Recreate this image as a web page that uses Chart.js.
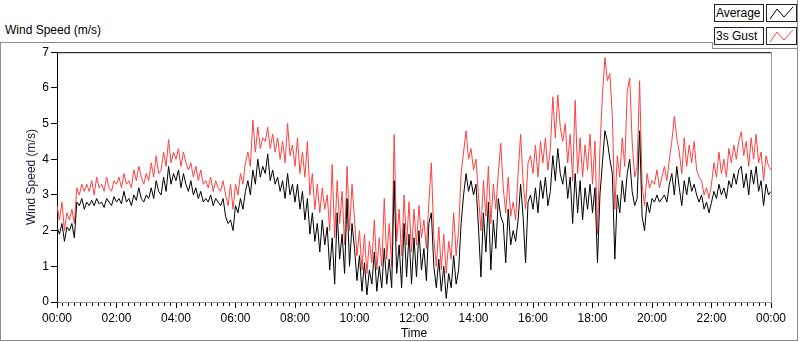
<!DOCTYPE html>
<html>
<head>
<meta charset="utf-8">
<title>Wind Speed</title>
<script src="https://cdn.jsdelivr.net/npm/chart.js@4.4.1/dist/chart.umd.min.js"></script>
<style>
  body { margin: 0; background: #fff; font-family: "Liberation Sans", Arial, sans-serif; }
  #title { position: absolute; left: 5px; top: 23px; font-size: 12px; color: #000; }
  #frame { position: absolute; left: 0; top: 42px; width: 796px; height: 297px; border: 1px solid #8c8c8c; }
  #legendPanel { position: absolute; left: 713px; top: 0; width: 84px; height: 48px; background: #fff;
                 border-right: 1px solid #8c8c8c; border-bottom: 1px solid #8c8c8c; }
  #legendEdge { position: absolute; left: 712px; top: 42px; width: 1px; height: 7px; background: #8c8c8c; }
  .lbl { position: absolute; left: 1px; width: 47px; height: 16px; border: 1px solid #222; font-size: 12px;
         line-height: 16px; padding-left: 1px; box-sizing: content-box; background: #fff; }
  .ico { position: absolute; left: 53px; width: 29px; height: 16px; border: 1px solid #222; background: #fff; }
  #wrap { position: absolute; left: 1px; top: 43px; width: 795px; height: 299px; }
</style>
</head>
<body>
<div id="title">Wind Speed (m/s)</div>
<div id="frame"></div>
<div id="legendPanel">
  <div class="lbl" style="top:4px">Average</div>
  <div class="ico" style="top:4px"><svg width="29" height="16"><polyline points="3,14 10,4 17,12 26,2" fill="none" stroke="#000" stroke-width="1"/></svg></div>
  <div class="lbl" style="top:27px">3s Gust</div>
  <div class="ico" style="top:27px"><svg width="29" height="16"><polyline points="3,14 10,4 17,12 26,2" fill="none" stroke="#ff4040" stroke-width="1"/></svg></div>
</div>
<div id="legendEdge"></div>
<div id="wrap"><canvas id="windChart"></canvas></div>

<script>
// una lectura cada 5 minutos, de 00:00 a 24:00
var stepMinutes = 5;

var seriesNames = ['Average', '3s Gust'];

var hourLabels = ['00:00', '02:00', '04:00', '06:00', '08:00', '10:00', '12:00',
                  '14:00', '16:00', '18:00', '20:00', '22:00', '00:00'];

var yTicks = [0, 1, 2, 3, 4, 5, 6, 7];

// viento medio (m/s), una fila por hora
var average = [
  2.1, 1.9, 2.2, 1.7, 2.1, 2.0, 2.2, 1.8, 2.8, 2.7, 2.9, 2.6,
  2.8, 2.7, 2.85, 2.7, 2.9, 2.75, 2.8, 2.65, 2.9, 2.8, 2.7, 2.95,
  2.8, 2.9, 2.75, 3.1, 2.8, 2.9, 2.7, 3.0, 2.85, 3.2, 2.9, 2.8,
  3.0, 2.9, 3.2, 2.9, 3.4, 3.1, 3.0, 3.5, 3.1, 3.8, 3.3, 3.6,
  3.4, 3.7, 3.2, 3.6, 3.3, 3.1, 3.4, 3.0, 3.2, 2.9, 3.1, 2.8,
  2.9, 2.8, 3.0, 2.7, 2.9, 2.8, 2.7, 2.9, 2.4, 2.2, 2.3, 2.0,
  2.7, 2.5, 2.9, 2.6, 3.1, 3.4, 3.0, 3.7, 3.3, 4.0, 3.5, 3.8,
  3.6, 4.15, 3.4, 3.7, 3.3, 3.5, 3.1, 3.4, 2.9, 3.6, 3.0, 3.3,
  2.8, 3.3, 2.6, 3.1, 2.3, 2.9, 1.9, 2.5, 1.7, 2.2, 1.4, 2.3,
  1.6, 2.1, 0.9, 1.8, 0.5, 2.5, 1.2, 1.9, 0.8, 2.9, 1.0, 2.2,
  1.5, 0.6, 1.3, 0.3, 1.1, 0.2, 0.9, 0.5, 1.4, 0.3, 1.0, 0.4,
  1.5, 0.5, 1.2, 0.4, 3.4, 0.8, 1.6, 0.4, 2.2, 0.7, 1.9, 0.5,
  1.8, 0.7, 2.0, 0.9, 1.5, 0.6, 2.2, 2.5, 1.0, 0.4, 1.2, 0.3,
  1.0, 0.1, 0.8, 0.4, 1.3, 0.5, 0.9, 2.2, 3.0, 3.6, 3.1, 3.4,
  3.0, 3.3, 2.1, 0.7, 2.5, 1.4, 2.8, 0.9, 2.3, 1.5, 2.9, 2.4,
  2.2, 1.1, 2.6, 1.6, 2.0, 1.7, 2.3, 3.3, 2.4, 1.1, 2.8, 3.0,
  2.6, 3.2, 2.5, 3.4, 2.9, 3.5, 2.7, 3.1, 4.1, 3.4, 4.3, 3.6,
  3.3, 3.8, 2.9, 3.5, 2.2, 3.6, 2.5, 3.4, 2.3, 3.2, 2.6, 3.3,
  2.5, 3.2, 1.1, 3.0, 3.9, 4.8, 4.5, 4.0, 3.6, 1.2, 3.0, 2.5,
  3.4, 2.8, 3.6, 4.0, 3.1, 2.7, 2.9, 4.8, 2.4, 2.0, 2.8, 2.5,
  2.9, 2.8, 3.0, 2.8, 2.9, 3.0, 2.8, 3.3, 3.6, 3.0, 3.8, 3.2,
  2.7, 3.4, 3.0, 3.5, 3.1, 3.3, 3.0, 2.8, 3.0, 2.6, 2.8, 2.5,
  2.8, 3.1, 2.9, 3.3, 3.0, 3.2, 2.9, 3.4, 3.2, 3.6, 3.3, 3.7,
  3.8, 3.2, 3.6, 3.0, 3.7, 3.3, 3.8, 3.1, 3.4, 2.7, 3.3, 3.0,
  3.1
];

// racha de 3 s (m/s)
var gust = [
  2.7, 2.3, 2.8, 2.0, 2.5, 2.3, 2.6, 2.2, 3.2, 3.0, 3.3, 3.1,
  3.3, 3.1, 3.4, 3.0, 3.5, 3.2, 3.3, 3.1, 3.5, 3.2, 3.1, 3.4,
  3.3, 3.5, 3.2, 3.6, 3.3, 3.4, 3.2, 3.7, 3.4, 3.8, 3.5, 3.3,
  3.6, 3.4, 3.9, 3.5, 4.1, 3.6, 3.7, 4.2, 3.8, 4.55, 3.9, 4.2,
  4.0, 4.3, 3.8, 4.2, 3.9, 3.7, 3.9, 3.5, 3.8, 3.4, 3.7, 3.3,
  3.4, 3.2, 3.5, 3.1, 3.4, 3.2, 3.1, 3.4, 3.0, 2.7, 3.3, 2.6,
  3.3, 3.0, 3.6, 3.3, 3.9, 4.2, 3.8, 5.1, 4.2, 4.9, 4.3, 4.6,
  4.5, 4.9, 4.3, 4.7, 4.2, 4.6, 4.0, 4.5, 3.9, 5.0, 4.1, 4.4,
  3.8, 4.6, 3.6, 4.2, 3.5, 4.5, 3.0, 3.6, 2.6, 3.3, 2.5, 3.2,
  2.6, 3.0, 2.0, 3.85, 1.8, 3.4, 2.2, 3.1, 1.6, 3.8, 2.0, 3.3,
  2.3, 1.3, 2.0, 0.9, 1.9, 0.8, 1.7, 1.1, 2.3, 0.9, 1.8, 1.0,
  2.9, 1.2, 2.2, 1.0, 4.7, 1.7, 2.6, 1.3, 3.0, 1.6, 2.8, 1.4,
  2.6, 1.6, 2.7, 1.8, 2.3, 1.5, 2.8, 3.9, 1.8, 1.0, 2.1, 0.9,
  1.9, 0.8, 1.7, 1.2, 2.5, 1.3, 2.0, 3.6, 4.2, 4.8, 4.0, 4.3,
  3.7, 4.0, 3.0, 2.0, 3.4, 2.4, 3.8, 2.2, 3.3, 2.6, 3.6, 4.45,
  3.2, 2.5, 3.5, 2.4, 2.8, 2.3, 3.6, 4.7, 3.4, 2.6, 3.9, 4.1,
  3.6, 4.4, 3.5, 4.5, 3.9, 4.6, 3.7, 4.3, 5.75, 4.6, 5.8, 4.9,
  4.5, 5.0, 3.9, 4.7, 3.4, 5.65, 3.6, 4.6, 3.5, 4.4, 3.7, 4.7,
  3.3, 4.5, 1.9, 4.3, 5.8, 6.85, 6.2, 6.4, 5.2, 2.6, 4.1, 3.5,
  4.6, 3.8, 5.9, 6.28, 4.5, 3.5, 3.8, 6.2, 3.3, 2.7, 3.6, 3.2,
  3.4, 3.3, 3.7, 3.2, 3.5, 3.8, 3.4, 4.0, 4.5, 5.2, 4.6, 4.2,
  3.6, 4.6, 3.8, 4.4, 3.9, 4.5, 3.7, 3.5, 3.4, 3.0, 3.2, 2.9,
  3.3, 3.9, 3.5, 4.2, 3.6, 4.0, 3.5, 4.3, 3.9, 4.4, 4.0, 4.5,
  4.77, 4.1, 4.5, 3.8, 4.6, 4.0, 4.7, 3.9, 4.2, 3.4, 4.1, 3.8,
  3.7
];

function toPoints(values) {
  return values.map(function(v, i) { return { x: i * stepMinutes, y: v }; });
}

// bordes del area de trazado: arriba negro, derecha gris
var plotFrame = {
  id: 'plotFrame',
  afterDraw: function(chart) {
    var ctx = chart.ctx, a = chart.chartArea;
    ctx.save();
    ctx.lineWidth = 1;
    ctx.strokeStyle = '#000';
    ctx.beginPath();
    ctx.moveTo(a.left, a.top + 0.5);
    ctx.lineTo(a.right, a.top + 0.5);
    ctx.stroke();
    ctx.strokeStyle = '#9a9a9a';
    ctx.beginPath();
    ctx.moveTo(a.right + 0.5, a.top);
    ctx.lineTo(a.right + 0.5, a.bottom);
    ctx.stroke();
    ctx.restore();
  }
};

Chart.defaults.font.family = '"Liberation Sans", Arial, sans-serif';
Chart.defaults.font.size = 12;
Chart.defaults.color = '#000';

var windChart = new Chart(document.getElementById('windChart'), {
  type: 'line',
  data: {
    datasets: [{
      label: seriesNames[0],
      data: toPoints(average),
      borderColor: '#000',
      borderWidth: 1,
      pointRadius: 0,
      tension: 0,
      fill: false
    }, {
      label: seriesNames[1],
      data: toPoints(gust),
      borderColor: '#ff4040',
      borderWidth: 1,
      pointRadius: 0,
      tension: 0,
      fill: false
    }]
  },
  options: {
    responsive: true,
    maintainAspectRatio: false,
    animation: false,
    events: [],
    layout: { padding: { top: 8, right: 25, left: 0, bottom: 0 } },
    plugins: {
      legend: { display: false },
      tooltip: { enabled: false }
    },
    scales: {
      x: {
        type: 'linear',
        min: 0,
        max: 1440,
        afterFit: function(scale) { scale.height = 40; },
        ticks: {
          stepSize: 12,
          autoSkip: false,
          maxRotation: 0,
          padding: 3,
          callback: function(v) {
            return v % 120 === 0 ? hourLabels[v / 120] : '';
          }
        },
        grid: {
          drawOnChartArea: false,
          drawTicks: true,
          tickLength: 6,
          tickColor: '#000',
          tickBorderDash: function(ctx) {
            return ctx.tick && ctx.tick.value % 120 === 0 ? [] : [3, 20];
          }
        },
        border: { color: '#9a9a9a' },
        title: { display: true, text: 'Time', padding: { top: 0, bottom: 1 } }
      },
      y: {
        min: 0,
        max: 7,
        afterFit: function(scale) { scale.width = 56; },
        afterBuildTicks: function(scale) {
          scale.ticks = yTicks.map(function(v) { return { value: v }; });
        },
        ticks: { padding: 2 },
        grid: {
          drawOnChartArea: false,
          drawTicks: true,
          tickLength: 6,
          tickColor: '#000'
        },
        border: { color: '#000' },
        title: { display: true, text: 'Wind Speed (m/s)', color: '#1c1c3c', padding: { top: 23, bottom: 0 } }
      }
    }
  },
  plugins: [plotFrame]
});
</script>
</body>
</html>
